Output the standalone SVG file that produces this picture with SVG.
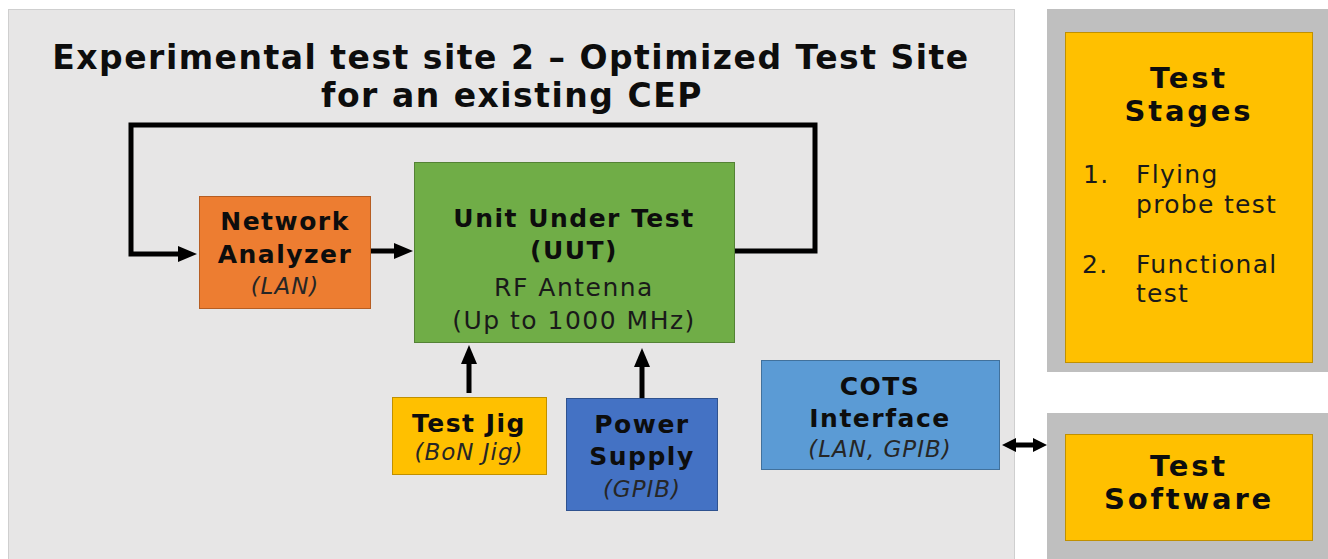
<svg xmlns="http://www.w3.org/2000/svg" width="1328" height="559" viewBox="0 0 1328 559">
<style>
text{font-family:"DejaVu Sans","Liberation Sans",sans-serif;fill:#0d0d0d}
.t{font-size:33px;font-weight:bold;letter-spacing:1.5px;text-anchor:middle}
.b{font-size:25px;font-weight:bold;letter-spacing:1.5px;text-anchor:middle}
.r{font-size:25px;letter-spacing:1.5px;text-anchor:middle;fill:#1a1a1a}
.i{font-size:23px;font-style:italic;letter-spacing:1px;text-anchor:middle;fill:#262626}
.h{font-size:29px;font-weight:bold;letter-spacing:2.8px;text-anchor:middle}
.l{font-size:25px;letter-spacing:1.3px;fill:#1a1a1a}
.w{fill:none;stroke:#000;stroke-width:5}
</style>
<defs>
<marker id="ah" markerUnits="userSpaceOnUse" markerWidth="20" markerHeight="16" viewBox="0 0 20 16" refX="2" refY="8" orient="auto">
<path d="M0,0 L19,8 L0,16 z" fill="#000"/>
</marker>
<marker id="sh" markerUnits="userSpaceOnUse" markerWidth="14" markerHeight="14" viewBox="0 0 14 14" refX="2" refY="7" orient="auto-start-reverse">
<path d="M0,0 L14,7 L0,14 z" fill="#000"/>
</marker>
</defs>
<g id="panel-main">
<rect x="8.5" y="9.5" width="1006" height="560" fill="#E7E6E6" stroke="#CFCFCF" stroke-width="1"/>
<text class="t" x="511" y="69">Experimental test site 2 – Optimized Test Site</text>
<text class="t" x="512" y="107">for an existing CEP</text>
</g>
<g id="test-stages">
<rect x="1047" y="9" width="281" height="363" fill="#BFBFBF"/>
<rect x="1065.5" y="32.5" width="247" height="330" fill="#FFC000" stroke="#C09000" stroke-width="1"/>
<text class="h" x="1189" y="88">Test</text>
<text class="h" x="1189" y="121">Stages</text>
<text class="l" x="1083" y="183">1.</text>
<text class="l" x="1136" y="183">Flying</text>
<text class="l" x="1136" y="213">probe test</text>
<text class="l" x="1082" y="273">2.</text>
<text class="l" x="1136" y="273">Functional</text>
<text class="l" x="1136" y="302">test</text>
</g>
<g id="test-software">
<rect x="1047" y="413" width="281" height="146" fill="#BFBFBF"/>
<rect x="1065.5" y="434.5" width="247" height="106" fill="#FFC000" stroke="#C09000" stroke-width="1"/>
<text class="h" x="1189" y="476">Test</text>
<text class="h" x="1189" y="509">Software</text>
</g>
<g id="network-analyzer">
<rect x="199.5" y="196.5" width="171" height="112" fill="#ED7D31" stroke="#B65D22" stroke-width="1"/>
<text class="b" x="285" y="230">Network</text>
<text class="b" x="285" y="263">Analyzer</text>
<text class="i" x="285" y="294">(LAN)</text>
</g>
<g id="uut">
<rect x="414.5" y="162.5" width="320" height="180" fill="#70AD47" stroke="#548235" stroke-width="1"/>
<text class="b" x="574" y="227">Unit Under Test</text>
<text class="b" x="574" y="259">(UUT)</text>
<text class="r" x="574" y="296">RF Antenna</text>
<text class="r" x="574" y="329">(Up to 1000 MHz)</text>
</g>
<g id="test-jig">
<rect x="392.5" y="397.5" width="154" height="77" fill="#FFC000" stroke="#C09000" stroke-width="1"/>
<text class="b" x="469" y="432">Test Jig</text>
<text class="i" x="469" y="460">(BoN Jig)</text>
</g>
<g id="power-supply">
<rect x="566.5" y="398.5" width="151" height="112" fill="#4472C4" stroke="#2F528F" stroke-width="1"/>
<text class="b" x="642" y="433">Power</text>
<text class="b" x="642" y="465">Supply</text>
<text class="i" x="642" y="497">(GPIB)</text>
</g>
<g id="cots-interface">
<rect x="761.5" y="360.5" width="238" height="109" fill="#5B9BD5" stroke="#41719C" stroke-width="1"/>
<text class="b" x="880" y="395">COTS</text>
<text class="b" x="880" y="427">Interface</text>
<text class="i" x="880" y="457">(LAN, GPIB)</text>
</g>
<g id="connectors">
<path class="w" d="M735,251 H815 V125 H131 V254 H180" marker-end="url(#ah)"/>
<path class="w" d="M371,251 H396" marker-end="url(#ah)"/>
<path class="w" d="M469,393 V362" marker-end="url(#ah)"/>
<path class="w" d="M642,398 V365" marker-end="url(#ah)"/>
<path class="w" d="M1014,445 H1035" marker-start="url(#sh)" marker-end="url(#sh)"/>
</g>
</svg>
